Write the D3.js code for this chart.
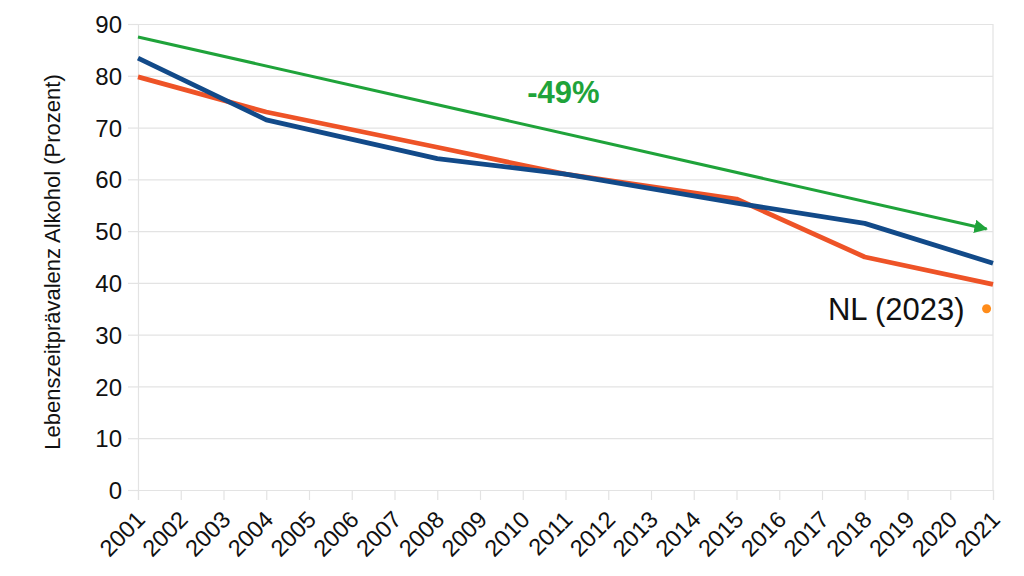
<!DOCTYPE html>
<html>
<head>
<meta charset="utf-8">
<script src="https://cdn.jsdelivr.net/npm/d3@7"></script>
<style>
  body { margin: 0; background: #fff; }
  svg { font-family: "Liberation Sans", Arial, sans-serif; }
</style>
</head>
<body>
<div id="chart"></div>
<script>
// axis categories
const years = d3.range(2001, 2022);
const yTicks = [0, 10, 20, 30, 40, 50, 60, 70, 80, 90];

// survey years and values
const surveyYears = [2001, 2004, 2008, 2011, 2015, 2018, 2021];
const blueValues = [83.4, 71.5, 64.0, 61.0, 55.4, 51.5, 43.8];
const orangeValues = [79.8, 73.0, 66.2, 61.0, 56.2, 45.0, 39.7];

// trend arrow
const trendYears = [2001, 2020.85];
const trendValues = [87.5, 50.4];
const trendLabel = "-49%";

// NL comparison point
const nlYear = [2020.85];
const nlValue = [35];
const nlLabel = "NL (2023)";

const margin = { top: 24, right: 31, bottom: 86, left: 138 };
const W = 1024, H = 576;

const svg = d3.select("#chart").append("svg")
  .attr("width", W)
  .attr("height", H);

svg.append("rect").attr("width", W).attr("height", H).attr("fill", "#fff");

const x = d3.scaleLinear()
  .domain([2001, 2021])
  .range([margin.left, W - margin.right]);

const y = d3.scaleLinear()
  .domain([0, 90])
  .range([H - margin.bottom, margin.top]);

const gridColor = "#e3e3e3";
const textColor = "#111";

// horizontal gridlines
svg.append("g")
  .attr("transform", `translate(${margin.left},0)`)
  .call(d3.axisLeft(y).tickValues(yTicks).tickSize(-(W - margin.right - margin.left)).tickFormat(""))
  .call(g => g.select(".domain").remove())
  .call(g => g.selectAll("line").attr("stroke", gridColor).attr("stroke-width", 1.2));

// right border
svg.append("line")
  .attr("x1", x(2021)).attr("x2", x(2021))
  .attr("y1", y(90)).attr("y2", y(0))
  .attr("stroke", gridColor).attr("stroke-width", 1.2);

// y axis
svg.append("g")
  .attr("transform", `translate(${margin.left},0)`)
  .call(d3.axisLeft(y).tickValues(yTicks).tickSize(10).tickPadding(6))
  .call(g => g.select(".domain").attr("stroke", gridColor).attr("stroke-width", 1.2))
  .call(g => g.selectAll("line").attr("stroke", gridColor).attr("stroke-width", 1.2))
  .call(g => g.selectAll("text")
    .attr("fill", textColor)
    .style("font-size", "24px")
    .attr("dy", "0.36em"));

// x axis
svg.append("g")
  .attr("transform", `translate(0,${y(0)})`)
  .call(d3.axisBottom(x).tickValues(years).tickSize(10).tickFormat(d3.format("d")))
  .call(g => g.select(".domain").attr("stroke", gridColor).attr("stroke-width", 1.2))
  .call(g => g.selectAll("line").attr("stroke", gridColor).attr("stroke-width", 1.2))
  .call(g => g.selectAll("text")
    .attr("fill", textColor)
    .style("font-size", "23.5px")
    .style("text-anchor", "end")
    .attr("x", 0)
    .attr("y", 0)
    .attr("dy", "0")
    .attr("transform", "translate(8,31) rotate(-45)"));

// y axis title
svg.append("text")
  .text("Lebenszeitprävalenz Alkohol (Prozent)")
  .attr("fill", textColor)
  .style("font-size", "22px")
  .style("text-anchor", "middle")
  .attr("transform", `translate(60, 262) rotate(-90)`);

// series lines
const line = d3.line()
  .x(d => x(d[0]))
  .y(d => y(d[1]));

svg.append("path")
  .datum(d3.zip(surveyYears, orangeValues))
  .attr("fill", "none")
  .attr("stroke", "#ee5327")
  .attr("stroke-width", 4.8)
  .attr("stroke-linejoin", "round")
  .attr("d", line);

svg.append("path")
  .datum(d3.zip(surveyYears, blueValues))
  .attr("fill", "none")
  .attr("stroke", "#124a89")
  .attr("stroke-width", 4.8)
  .attr("stroke-linejoin", "round")
  .attr("d", line);

// trend arrow
svg.append("defs").append("marker")
  .attr("id", "arrow")
  .attr("viewBox", "0 0 10 10")
  .attr("refX", 9)
  .attr("refY", 5)
  .attr("markerWidth", 4.5)
  .attr("markerHeight", 4.5)
  .attr("markerUnits", "strokeWidth")
  .attr("orient", "auto")
  .append("path")
  .attr("d", "M0,0L10,5L0,10Z")
  .attr("fill", "#1fa33a");

svg.append("path")
  .datum(d3.zip(trendYears, trendValues))
  .attr("fill", "none")
  .attr("stroke", "#1fa33a")
  .attr("stroke-width", 3)
  .attr("marker-end", "url(#arrow)")
  .attr("d", line);

svg.append("text")
  .text(trendLabel)
  .attr("x", x(2010.95))
  .attr("y", y(74.8))
  .attr("fill", "#1fa33a")
  .style("font-size", "31px")
  .style("font-weight", "bold")
  .style("text-anchor", "middle");

// NL point
svg.selectAll(".nl")
  .data(d3.zip(nlYear, nlValue))
  .join("circle")
  .attr("class", "nl")
  .attr("cx", d => x(d[0]))
  .attr("cy", d => y(d[1]))
  .attr("r", 4.5)
  .attr("fill", "#ff8c1a");

svg.append("text")
  .text(nlLabel)
  .attr("x", x(nlYear[0]) - 22)
  .attr("y", y(nlValue[0]))
  .attr("dy", "0.35em")
  .attr("fill", textColor)
  .style("font-size", "31px")
  .style("text-anchor", "end");
</script>
</body>
</html>
